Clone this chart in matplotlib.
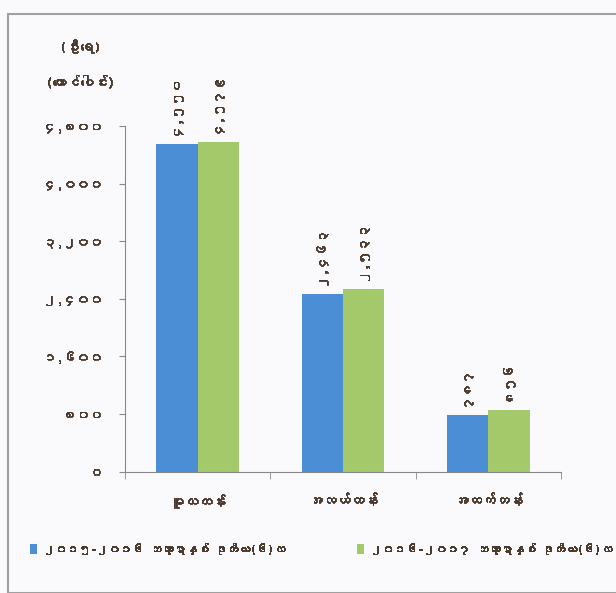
import matplotlib
matplotlib.use("Agg")
import matplotlib.pyplot as plt
import matplotlib.patheffects as pe
from matplotlib import font_manager as fm, ft2font
from matplotlib.patches import Rectangle
import numpy as np

# ---------------- data ----------------
categories = ["မူလတန်း", "အလယ်တန်း", "အထက်တန်း"]
series_names = ["၂၀၁၅-၂၀၁၆ ဘဏ္ဍာနှစ် ဒုတိယ(၆)လ", "၂၀၁၆-၂၀၁၇ ဘဏ္ဍာနှစ် ဒုတိယ(၆)လ"]
values_2015 = [4550, 2463, 787]
values_2016 = [4579, 2533, 856]
y_ticks = [0, 800, 1600, 2400, 3200, 4000, 4800]
y_title_1 = "(ဦးရေ)"
y_title_2 = "(ထောင်ပေါင်း)"

# ---------------- fonts ----------------
mm = []
for f in fm.fontManager.ttflist:
    try:
        cm = ft2font.FT2Font(f.fname).get_charmap()
        if 0x1000 in cm and 0x1031 in cm and f.name not in mm:
            mm.append(f.name)
    except Exception:
        pass
families = mm + ["DejaVu Sans"]
plt.rcParams["font.family"] = families

BURMESE = str.maketrans("0123456789", "၀၁၂၃၄၅၆၇၈၉")
def bdig(v):
    return f"{v:,}".translate(BURMESE)

txt = "#4b3b2f"
blue = "#4c8ed6"
green = "#a3c96b"
bold = [pe.withStroke(linewidth=0.6, foreground=txt)]

fig = plt.figure(figsize=(6.16, 5.93), dpi=100)
fig.patch.set_facecolor("#fafafc")
fig.add_artist(Rectangle((8/616, 0), 1, 1 - 14/593, transform=fig.transFigure,
                         fill=False, edgecolor="#a0a0a0", lw=1.5))

ax = fig.add_axes([125/616, 1 - 471.7/593, 436/616, 345.7/593])
ax.set_facecolor("none")
x = np.arange(len(categories))
w = 0.285
b1 = ax.bar(x - w/2, values_2015, w, color=blue, label=series_names[0])
b2 = ax.bar(x + w/2, values_2016, w, color=green, label=series_names[1])
for bars, vals in ((b1, values_2015), (b2, values_2016)):
    for r, v in zip(bars, vals):
        ax.annotate(bdig(v), (r.get_x() + r.get_width()/2, r.get_height()),
                    xytext=(0, 4), textcoords="offset points", rotation=90,
                    ha="center", va="bottom", fontsize=9.5, fontweight="bold",
                    color=txt, path_effects=bold)

ax.set_xlim(-0.5, len(categories) - 0.5)
ax.set_ylim(0, 4800)
ax.set_yticks(y_ticks)
ax.set_yticklabels([bdig(v) for v in y_ticks], fontsize=9.5, fontweight="bold", color=txt)
ax.set_xticks(x)
ax.set_xticklabels(categories, fontsize=10, fontweight="bold", color=txt)
for t in ax.get_xticklabels() + ax.get_yticklabels():
    t.set_path_effects(bold)
ax.set_xticks(np.arange(-0.5, len(categories)), minor=True)
ax.tick_params(axis="x", which="major", length=0, pad=16)
ax.tick_params(axis="x", which="minor", length=5, color="#888888")
ax.tick_params(axis="y", length=4, color="#888888", pad=12)
for s in ("top", "right"):
    ax.spines[s].set_visible(False)
for s in ("left", "bottom"):
    ax.spines[s].set_color("#888888")

fig.text(80/616, 1 - 46/593, y_title_1, ha="center", va="center",
         fontsize=10, fontweight="bold", color=txt, path_effects=bold)
fig.text(80/616, 1 - 82/593, y_title_2, ha="center", va="center",
         fontsize=10, fontweight="bold", color=txt, path_effects=bold)

for h, xpos in ((b1, 30/616), (b2, 357/616)):
    leg = fig.legend(handles=[h], loc="center left", bbox_to_anchor=(xpos, 1 - 548/593),
                     frameon=False, handlelength=0.6, handleheight=0.9,
                     handletextpad=0.5, borderaxespad=0, borderpad=0,
                     prop={"size": 8.5, "weight": "bold"})
    for t in leg.get_texts():
        t.set_color(txt)
        t.set_path_effects(bold)
    fig.add_artist(leg)

fig.savefig("out.png", dpi=100, facecolor=fig.get_facecolor())
